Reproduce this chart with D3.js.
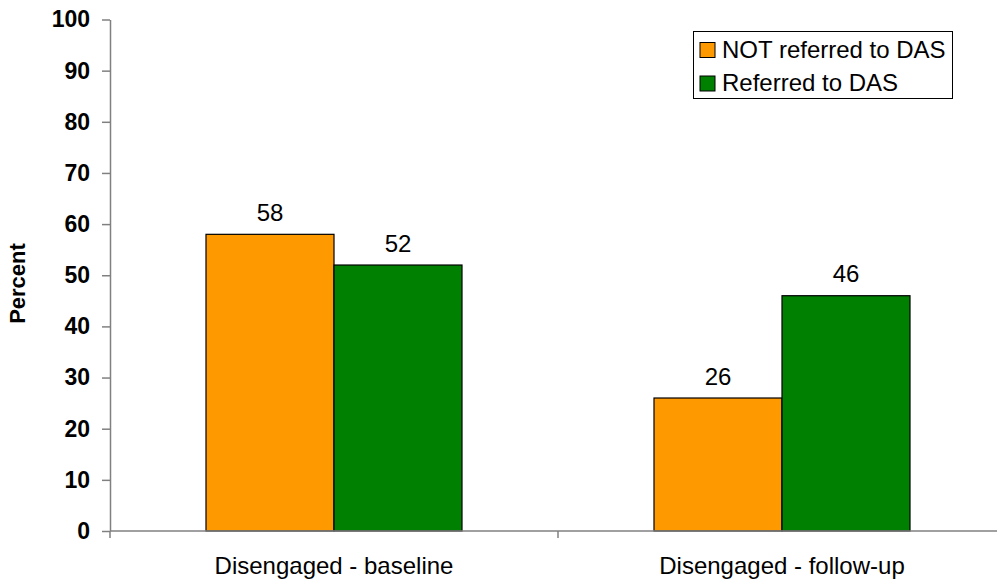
<!DOCTYPE html>
<html>
<head>
<meta charset="utf-8">
<script src="https://cdn.jsdelivr.net/npm/d3@7"></script>
<style>
  html, body { margin: 0; padding: 0; background: #fff; }
  svg { display: block; font-family: "Liberation Sans", Arial, Helvetica, sans-serif; }
</style>
</head>
<body>
<svg id="chart" width="997" height="580"></svg>
<script>
// Share of young people disengaged, by referral status
const categories = ["Disengaged - baseline", "Disengaged - follow-up"];
const seriesNames = ["NOT referred to DAS", "Referred to DAS"];
const notReferred = [58, 26];
const referred = [52, 46];
const yTicks = [0, 10, 20, 30, 40, 50, 60, 70, 80, 90, 100];
const seriesColors = ["#FF9900", "#008000"];

const seriesValues = [notReferred, referred];

const svg = d3.select("#chart");
const axisColor = "#808080";

const y = d3.scaleLinear().domain([0, 100]).range([531, 19.5]);

const x0 = d3.scaleBand()
  .domain(categories)
  .range([110, 1006])
  .paddingInner(192 / 448)
  .paddingOuter(96 / 448);

const x1 = d3.scaleBand()
  .domain(seriesNames)
  .range([0, x0.bandwidth()]);

// Y axis
const yAxis = d3.axisLeft(y)
  .tickValues(yTicks)
  .tickSizeInner(8)
  .tickSizeOuter(0)
  .tickPadding(12);

const gy = svg.append("g")
  .attr("transform", "translate(110,0)")
  .call(yAxis);
gy.select(".domain").attr("stroke", axisColor).attr("stroke-width", 1.5);
gy.selectAll(".tick line").attr("stroke", axisColor).attr("stroke-width", 1.5);
gy.selectAll(".tick text")
  .attr("fill", "#000")
  .style("font-size", "23px")
  .style("font-weight", "bold")
  .style("font-family", "'Liberation Sans', Arial, sans-serif");

// Bars
const groups = svg.append("g")
  .selectAll("g")
  .data(categories)
  .join("g")
  .attr("transform", d => `translate(${x0(d)},0)`);

groups.selectAll("rect")
  .data((c, ci) => seriesNames.map((s, si) => ({ s, si, v: seriesValues[si][ci] })))
  .join("rect")
  .attr("x", d => x1(d.s))
  .attr("y", d => y(d.v))
  .attr("width", x1.bandwidth())
  .attr("height", d => y(0) - y(d.v))
  .attr("fill", d => seriesColors[d.si])
  .attr("stroke", "#000")
  .attr("stroke-width", 1.2);

// Value labels
groups.selectAll("text.val")
  .data((c, ci) => seriesNames.map((s, si) => ({ s, si, v: seriesValues[si][ci] })))
  .join("text")
  .attr("class", "val")
  .attr("x", d => x1(d.s) + x1.bandwidth() / 2)
  .attr("y", d => y(d.v) - 13.5)
  .attr("text-anchor", "middle")
  .style("font-size", "24px")
  .text(d => d.v);

// X axis: baseline with ticks at category boundaries
const gx = svg.append("g");
const [r0, r1] = x0.range();
gx.append("line")
  .attr("x1", r0).attr("x2", r1)
  .attr("y1", y(0)).attr("y2", y(0))
  .attr("stroke", axisColor).attr("stroke-width", 1.5);
const boundaries = d3.range(categories.length + 1).map(i => r0 + i * x0.step());
gx.selectAll("line.tick")
  .data(boundaries)
  .join("line")
  .attr("class", "tick")
  .attr("x1", d => d).attr("x2", d => d)
  .attr("y1", y(0)).attr("y2", y(0) + 7)
  .attr("stroke", axisColor).attr("stroke-width", 1.5);
gx.selectAll("text")
  .data(categories)
  .join("text")
  .attr("x", d => x0(d) + x0.bandwidth() / 2)
  .attr("y", 573.5)
  .attr("text-anchor", "middle")
  .style("font-size", "24px")
  .text(d => d);

// Y axis title
svg.append("text")
  .attr("transform", "translate(25,283.5) rotate(-90)")
  .attr("text-anchor", "middle")
  .style("font-size", "22px")
  .style("font-weight", "bold")
  .text("Percent");

// Legend
const legend = svg.append("g");
legend.append("rect")
  .attr("x", 693.5).attr("y", 31.5)
  .attr("width", 259).attr("height", 67)
  .attr("fill", "#fff")
  .attr("stroke", "#000")
  .attr("stroke-width", 1);
const items = legend.selectAll("g.item")
  .data(seriesNames)
  .join("g")
  .attr("class", "item")
  .attr("transform", (d, i) => `translate(700,${42.5 + i * 33.5})`);
items.append("rect")
  .attr("width", 15).attr("height", 15)
  .attr("fill", (d, i) => seriesColors[i])
  .attr("stroke", "#000")
  .attr("stroke-width", 1);
items.append("text")
  .attr("x", 22)
  .attr("y", 15.2)
  .style("font-size", "24px")
  .text(d => d);
</script>
</body>
</html>
